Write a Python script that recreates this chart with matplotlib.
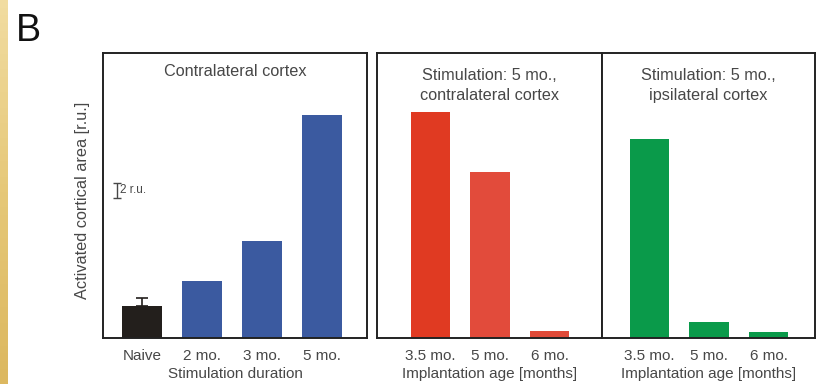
import numpy as np
import matplotlib
matplotlib.use("Agg")
import matplotlib.pyplot as plt

plt.rcParams['font.family'] = ['Liberation Sans', 'DejaVu Sans']

# panel 1: stimulation duration
dur_labels = ["Naive", "2 mo.", "3 mo.", "5 mo."]
dur_values = [4.3, 7.6, 12.9, 29.7]
naive_err = 1.1

# panel 2 and 3: implantation age
age_labels = ["3.5 mo.", "5 mo.", "6 mo."]
contra_values = [30.1, 22.1, 0.9]
ipsi_values = [26.5, 2.1, 0.8]

blue = "#3b5aa0"
black = "#231f1c"
reds = ["#e03a22", "#e24b3b", "#e04a38"]
green = "#0a9a4a"
txt = "#474747"

fig = plt.figure(figsize=(8.16, 3.84), dpi=100)

# gold strip on the left edge
strip = fig.add_axes([0, 0, 8 / 816, 1])
grad = np.linspace(0, 1, 50).reshape(-1, 1)
strip.imshow(grad, aspect="auto", cmap=matplotlib.colors.LinearSegmentedColormap.from_list(
    "gold", ["#f1dca0", "#e6c878", "#dcb860"]))
strip.axis("off")

fig.text(16 / 816, 1 - 41 / 384, "B", fontsize=27, color="#111111")

bottom = 1 - 338 / 384
height = 285 / 384
ax1 = fig.add_axes([103 / 816, bottom, 264 / 816, height])
ax2 = fig.add_axes([377 / 816, bottom, 225 / 816, height])
ax3 = fig.add_axes([602 / 816, bottom, 213 / 816, height])

x1 = np.arange(len(dur_labels))
ax1.bar(x1, dur_values, width=0.667, color=[black, blue, blue, blue])
ax1.errorbar(x1[0], dur_values[0], yerr=[[0], [naive_err]], fmt="none",
             ecolor=black, capsize=4.5, elinewidth=1.2, capthick=1.2)
ax1.set_xlim(-0.65, 3.75)
ax1.set_title("Contralateral cortex", fontsize=11.7, color=txt, y=0.89)
ax1.set_xlabel("Stimulation duration")

# scale bar
ax1.errorbar(-0.42, 19.7, yerr=1.0, fmt="none", ecolor=txt, capsize=3,
             elinewidth=1.0, capthick=1.0)
ax1.text(-0.36, 19.7, "2 r.u.", fontsize=8.5, color=txt, va="center")

x2 = np.arange(len(age_labels))
ax2.bar(x2, contra_values, width=0.667, color=reds)
ax2.set_xlim(-0.9, 2.88)
ax2.set_title("Stimulation: 5 mo.,\ncontralateral cortex", fontsize=11.7,
              color=txt, y=0.805, linespacing=1.45)
ax2.set_xlabel("Implantation age [months]")

ax3.bar(x2, ipsi_values, width=0.667, color=green)
ax3.set_xlim(-0.8, 2.78)
ax3.set_title("Stimulation: 5 mo.,\nipsilateral cortex", fontsize=11.7,
              color=txt, y=0.805, linespacing=1.45)
ax3.set_xlabel("Implantation age [months]")

for ax, labels in [(ax1, dur_labels), (ax2, age_labels), (ax3, age_labels)]:
    ax.set_ylim(0, 38)
    ax.set_xticks(np.arange(len(labels)))
    ax.set_xticklabels(labels, fontsize=11, color=txt)
    ax.tick_params(axis="x", length=0, pad=8)
    ax.set_yticks([])
    ax.xaxis.label.set_color(txt)
    ax.xaxis.label.set_fontsize(11)
    ax.xaxis.labelpad = 3
    for s in ax.spines.values():
        s.set_linewidth(1.4)
        s.set_color("#222222")

fig.text(82 / 816, 1 - 200 / 384, "Activated cortical area [r.u.]", rotation=90,
         fontsize=11.7, color=txt, ha="center", va="center")

fig.savefig("out.png", dpi=100)
